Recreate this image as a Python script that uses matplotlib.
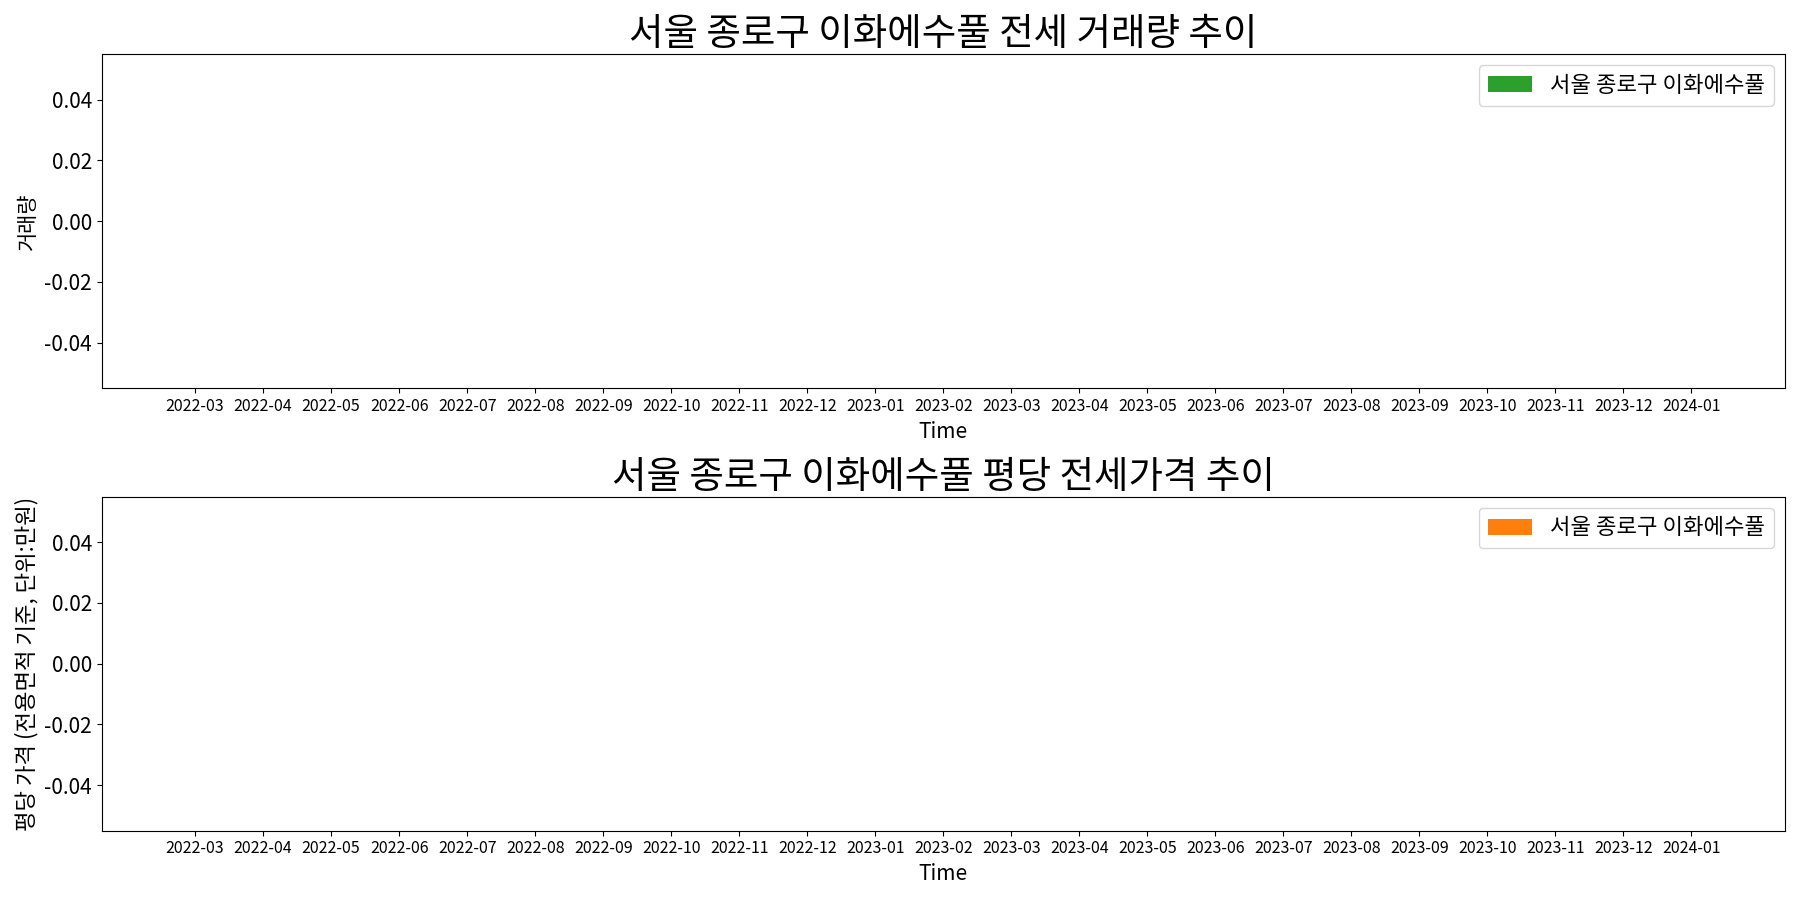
import matplotlib
matplotlib.use("Agg")
from matplotlib import pyplot as plt

plt.rcParams['font.family'] = ['Noto Sans CJK KR', 'DejaVu Sans']
plt.rcParams['axes.unicode_minus'] = False

# 데이터
months = ['2022-03', '2022-04', '2022-05', '2022-06', '2022-07', '2022-08',
          '2022-09', '2022-10', '2022-11', '2022-12', '2023-01', '2023-02',
          '2023-03', '2023-04', '2023-05', '2023-06', '2023-07', '2023-08',
          '2023-09', '2023-10', '2023-11', '2023-12', '2024-01']
volume = [0, 0, 0, 0, 0, 0, 0, 0, 0, 0, 0, 0,
          0, 0, 0, 0, 0, 0, 0, 0, 0, 0, 0]
price_per_pyeong = [0, 0, 0, 0, 0, 0, 0, 0, 0, 0, 0, 0,
                    0, 0, 0, 0, 0, 0, 0, 0, 0, 0, 0]
name = '서울 종로구 이화에수풀'

fig = plt.figure(figsize=(18, 9), dpi=100)

# 거래량
plt.subplot(2, 1, 1)
plt.bar(months, volume, width=0.5, color='tab:green', label=name)
plt.title(f'{name} 전세 거래량 추이', fontsize=27)
plt.xlabel('Time', fontsize=15)
plt.ylabel('거래량', fontsize=15)
plt.xticks(fontsize=11.5)
plt.yticks(fontsize=15)
plt.legend(fontsize=16)

# 평당 가격
plt.subplot(2, 1, 2)
plt.bar(months, price_per_pyeong, width=0.5, color='tab:orange', label=name)
plt.title(f'{name} 평당 전세가격 추이', fontsize=27)
plt.xlabel('Time', fontsize=15)
plt.ylabel('평당 가격 (전용면적 기준, 단위:만원)', fontsize=16)
plt.xticks(fontsize=11.5)
plt.yticks(fontsize=15)
plt.legend(fontsize=16)

plt.tight_layout()
plt.savefig('out.png')
